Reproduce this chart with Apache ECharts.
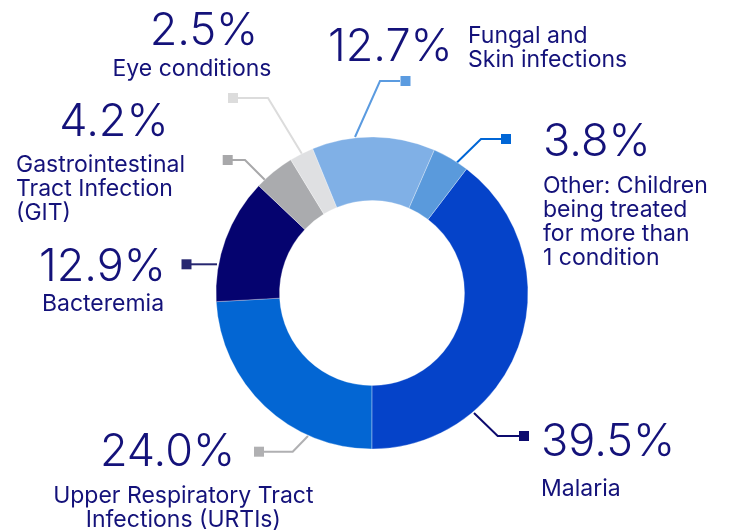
<!DOCTYPE html>
<html>
<head>
<meta charset="utf-8">
<script src="https://cdn.jsdelivr.net/npm/echarts@6/dist/echarts.min.js"></script>
<style>
html,body{margin:0;padding:0;background:#fff;}
#chart{width:742px;height:532px;}
</style>
</head>
<body>
<div id="chart"></div>
<script>
// ---- data ----
const categories = [
  'Malaria',
  'Upper Respiratory Tract\nInfections (URTIs)',
  'Bacteremia',
  'Gastrointestinal\nTract Infection\n(GIT)',
  'Eye conditions',
  'Fungal and\nSkin infections',
  'Other: Children\nbeing treated\nfor more than\n1 condition'
];
const values = [39.5, 24.0, 12.9, 4.2, 2.5, 12.7, 3.8];

// ---- styles (not data) ----
const sliceColors = ['#0543c9', '#0366d3', '#05036f', '#aaabae', '#dfe0e2', '#80b0e6', '#5a9adc'];
const lineColors  = ['#0d0b6e', '#b0b0b2', '#262670', '#a8a8aa', '#dcdcdc', '#5b9be0', '#0066d6'];
const textColor = '#14127a';
const FONT = 'Inter, "Noto Sans", sans-serif';

// annotation layout: leader line points, square center, percent text pos, name text pos
const layout = [
  { pts: [[474,413],[497.7,436],[519,436]], sq: [524,436],
    pct: {x:541, y:442, align:'left'}, name: {x:541, y:489, align:'left'} },
  { pts: [[308,436],[292.7,451.7],[264,451.7]], sq: [259,451.7],
    pct: {x:167.5, y:452, align:'center'}, name: {x:183.3, y:508.5, align:'center'} },
  { pts: [[217,264.3],[191,264.3]], sq: [186.5,264.3],
    pct: {x:102.5, y:267.5, align:'center'}, name: {x:103, y:304.5, align:'center'} },
  { pts: [[265,180],[245,160],[232,160]], sq: [227.7,160],
    pct: {x:114, y:122, align:'center'}, name: {x:16, y:189, align:'left'} },
  { pts: [[302,154],[268,98],[238,98]], sq: [233,98],
    pct: {x:204, y:31, align:'center'}, name: {x:192, y:69.5, align:'center'} },
  { pts: [[355,137],[380,81],[400,81]], sq: [405.5,81],
    pct: {x:328, y:47.5, align:'left'}, name: {x:468, y:48, align:'left'} },
  { pts: [[456.7,162.7],[481,139],[501,139]], sq: [506,139],
    pct: {x:543, y:142, align:'left'}, name: {x:543, y:222.5, align:'left'} }
];

const graphics = [];
values.forEach((v, i) => {
  const L = layout[i];
  graphics.push({
    type: 'polyline', silent: true,
    shape: { points: L.pts },
    style: { stroke: lineColors[i], lineWidth: 2, fill: null }
  });
  graphics.push({
    type: 'rect', silent: true,
    shape: { x: L.sq[0] - 5, y: L.sq[1] - 5, width: 10, height: 10 },
    style: { fill: lineColors[i] }
  });
  graphics.push({
    type: 'text', silent: true, x: L.pct.x, y: L.pct.y,
    style: {
      text: v.toFixed(1) + '%', fill: textColor,
      fontSize: 45, fontWeight: 300, fontFamily: FONT,
      align: L.pct.align, verticalAlign: 'middle'
    }
  });
  graphics.push({
    type: 'text', silent: true, x: L.name.x, y: L.name.y,
    style: {
      text: categories[i], fill: textColor,
      fontSize: 23, fontWeight: 400, fontFamily: FONT, lineHeight: 24,
      align: L.name.align, verticalAlign: 'middle'
    }
  });
});

const chart = echarts.init(document.getElementById('chart'), null, { renderer: 'canvas' });
chart.setOption({
  animation: false,
  backgroundColor: '#ffffff',
  series: [{
    type: 'pie',
    center: [372, 293],
    radius: [92.5, 156],
    startAngle: 52.7,
    clockwise: true,
    silent: true,
    label: { show: false },
    labelLine: { show: false },
    itemStyle: { borderWidth: 0.6, borderColor: 'rgba(255,255,255,0.5)' },
    emphasis: { disabled: true },
    data: values.map((v, i) => ({
      name: categories[i], value: v,
      itemStyle: { color: sliceColors[i] }
    }))
  }],
  graphic: graphics
});
</script>
</body>
</html>
